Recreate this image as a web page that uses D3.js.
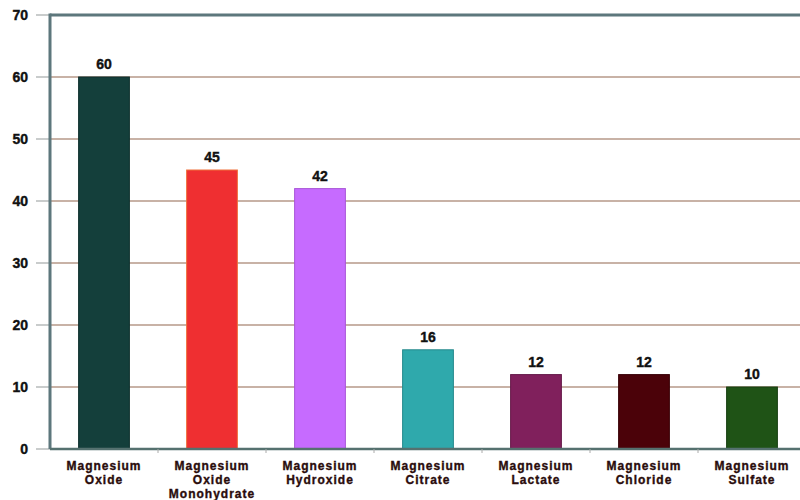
<!DOCTYPE html>
<html><head><meta charset="utf-8">
<script src="https://cdn.jsdelivr.net/npm/d3@7"></script>
<style>body{margin:0;background:#fff}svg{display:block}text{font-family:"Liberation Sans",Arial,sans-serif;font-weight:bold}</style>
</head><body><svg id="c" width="800" height="500"></svg>
<script>
const categories = [["Magnesium","Oxide"],["Magnesium","Oxide","Monohydrate"],["Magnesium","Hydroxide"],["Magnesium","Citrate"],["Magnesium","Lactate"],["Magnesium","Chloride"],["Magnesium","Sulfate"]];
const values = [60,45,42,16,12,12,10];
const colors = ["#143f3b","#ef2f31","#c66bff","#2fa9ac","#80205c","#4b0209","#1f5316"];
const strokes = ["#0e2f2c","#f0703a","#a855d8","#24898c","#641848","#380106","#163e10"];
const yTicks = [0,10,20,30,40,50,60,70];

(function(){
const svg = d3.select("#c");
const mLeft = 50, mTop = 15, mBottom = 449, mRight = 806;
const x = d3.scaleBand().domain(d3.range(categories.length)).range([mLeft, mRight]).paddingInner(0.53).paddingOuter(0.265);
const y = d3.scaleLinear().domain([0,70]).range([mBottom, mTop]);

svg.append("g").selectAll("line").data(yTicks.filter(d=>d>0 && d<70)).join("line")
  .attr("x1", mLeft).attr("x2", 800).attr("y1", d=>y(d)).attr("y2", d=>y(d))
  .attr("stroke", "#c8b2a6").attr("stroke-width", 2.2);
svg.append("g").selectAll("line").data(yTicks).join("line")
  .attr("x1", 36).attr("x2", mLeft).attr("y1", d=>y(d)).attr("y2", d=>y(d))
  .attr("stroke", "#c9cccc").attr("stroke-width", 2);
svg.append("g").selectAll("text").data(yTicks).join("text")
  .attr("x", 28).attr("y", d=>y(d)).attr("dy", "0.36em").attr("text-anchor","end")
  .attr("font-size", 14).attr("fill", "#111").attr("stroke","#111").attr("stroke-width",0.4).text(d=>d);

const idx = d3.range(values.length);
svg.append("g").selectAll("rect").data(idx).join("rect")
  .attr("x", i=>x(i)).attr("width", x.bandwidth())
  .attr("y", i=>y(values[i])).attr("height", i=>mBottom - y(values[i]))
  .attr("fill", i=>colors[i]).attr("stroke", i=>strokes[i]).attr("stroke-width", 1);
svg.append("g").selectAll("text").data(idx).join("text")
  .attr("x", i=>x(i)+x.bandwidth()/2).attr("y", i=>y(values[i]) - 8)
  .attr("text-anchor","middle").attr("font-size", 14).attr("fill","#111").attr("stroke","#111").attr("stroke-width",0.4).text(i=>values[i]);

svg.append("line").attr("x1", mLeft).attr("x2", 800).attr("y1", y(70)).attr("y2", y(70)).attr("stroke","#5d777c").attr("stroke-width",3);
svg.append("line").attr("x1", mLeft).attr("x2", mLeft).attr("y1", y(70)-1.5).attr("y2", mBottom).attr("stroke","#5d777c").attr("stroke-width",3);
svg.append("line").attr("x1", mLeft).attr("x2", 800).attr("y1", mBottom).attr("y2", mBottom).attr("stroke","#55716f").attr("stroke-width",2.5);
const step = x.step();
svg.append("g").selectAll("line").data(d3.range(1, categories.length)).join("line")
  .attr("x1", i=>mLeft + i*step).attr("x2", i=>mLeft + i*step).attr("y1", mBottom).attr("y2", mBottom+4)
  .attr("stroke","#aaa").attr("stroke-width",1);

const cl = svg.append("g").selectAll("text").data(idx).join("text")
  .attr("text-anchor","middle").attr("font-size", 12).attr("fill","#2a0c0c").attr("stroke","#2a0c0c").attr("stroke-width",0.35).attr("letter-spacing","1");
cl.each(function(i){
  const t = d3.select(this);
  categories[i].forEach((s,k)=>{
    t.append("tspan").attr("x", x(i)+x.bandwidth()/2).attr("y", 470 + k*14).text(s);
  });
});
})();
</script></body></html>
